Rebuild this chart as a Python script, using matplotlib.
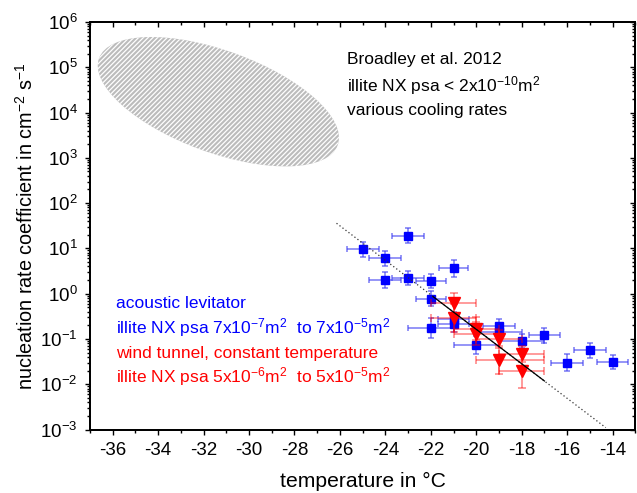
import matplotlib
matplotlib.use('Agg')

import numpy
import matplotlib.pyplot as plt
from matplotlib.patches import Ellipse
from matplotlib.transforms import IdentityTransform
from matplotlib.ticker import MultipleLocator, LogLocator, NullFormatter

from matplotlib import rcParams
rcParams['font.family'] = ['Liberation Sans', 'DejaVu Sans']
rcParams['mathtext.fontset'] = 'custom'
rcParams['mathtext.rm'] = 'Liberation Sans'
rcParams['mathtext.it'] = 'Liberation Sans:italic'
rcParams['mathtext.bf'] = 'Liberation Sans:bold'
rcParams['mathtext.default'] = 'regular'
rcParams['axes.unicode_minus'] = False
rcParams['hatch.linewidth'] = 0.9

TICK_FONT_SIZE = 13.5
XLABEL_FONT_SIZE = 15.2
YLABEL_FONT_SIZE = 14.3
TEXT_FONT_SIZE = 12.5

# acoustic levitator (blue squares)
blue_T = [-25, -24, -23, -24, -23, -22, -21, -22, -22, -21, -21, -20, -19, -19, -18, -17, -16, -15, -14]
blue_J = [9.5, 6.0, 19, 2.0, 2.2, 1.9, 3.6, 0.78, 0.175, 0.27, 0.21, 0.073, 0.19, 0.14, 0.089, 0.12, 0.030, 0.056, 0.031]
blue_dT = [0.7, 0.7, 0.7, 0.7, 0.7, 0.65, 0.65, 0.65, 1.0, 0.7, 0.7, 1.0, 0.7, 1.0, 1.0, 0.7, 0.7, 0.7, 0.7]
blue_dlog = [0.17, 0.16, 0.17, 0.18, 0.16, 0.16, 0.18, 0.16, 0.22, 0.16, 0.16, 0.2, 0.16, 0.16, 0.16, 0.17, 0.18, 0.16, 0.16]

# wind tunnel (red triangles)
red_T = [-21, -21, -20, -20, -19, -19, -18, -18]
red_J = [0.63, 0.29, 0.17, 0.13, 0.10, 0.034, 0.047, 0.020]
red_dT_lo = [1, 1, 1, 1, 1, 1, 1, 1]
red_dT_hi = [1, 1, 1, 1, 1, 2, 1, 1]
red_dlog = [0.22, 0.3, 0.25, 0.25, 0.2, 0.31, 0.18, 0.38]

# fit lines
dotted_T = [-26.15, -14.3]
dotted_J = [35.9, 1.1e-3]
solid_T = [-21.9, -17.0]
solid_J = [0.86, 0.0118]

# Broadley et al. 2012 region
broadley_T = -31.35
broadley_J = 10 ** 4.24

XMIN, XMAX = -37, -13
YMIN, YMAX = 1e-3, 1e6


def log_err(vals, dex):
	lo = [v - v / 10 ** d for v, d in zip(vals, dex)]
	hi = [v * 10 ** d - v for v, d in zip(vals, dex)]
	return [lo, hi]


def plot_j(dest):
	fig = plt.figure(figsize=(6.37, 4.93), dpi=100)
	ax = fig.add_axes([90 / 637., 63.5 / 493., 545.3 / 637., 407.5 / 493.])

	ax.set_yscale('log')
	ax.set_xlim(XMIN, XMAX)
	ax.set_ylim(YMIN, YMAX)

	ax.errorbar(blue_T, blue_J, xerr=blue_dT, yerr=log_err(blue_J, blue_dlog),
				fmt='none', ecolor=(0.25, 0.25, 0.95), alpha=0.7, elinewidth=1.1,
				capsize=2.3, capthick=1.1, zorder=2)
	ax.plot(blue_T, blue_J, 's', color='#0000ff', markersize=5.5, zorder=3)

	ax.errorbar(red_T, red_J, xerr=[red_dT_lo, red_dT_hi], yerr=log_err(red_J, red_dlog),
				fmt='none', ecolor='#ff0000', alpha=0.5, elinewidth=1.1,
				capsize=2.6, capthick=1.1, zorder=4)
	ax.plot(red_T, red_J, 'v', color='#ff0000', markersize=8, zorder=5)

	ax.plot(dotted_T, dotted_J, color='#333333', linewidth=0.9, linestyle=(0, (1, 2)), zorder=6)
	ax.plot(solid_T, solid_J, color='black', linewidth=0.9, zorder=7)

	# hatched ellipse, sized in pixels
	cx, cy = ax.transData.transform((broadley_T, broadley_J))
	ell = Ellipse((cx, cy), 254, 102, angle=-20, transform=IdentityTransform(),
				  facecolor='#bcbcbc', edgecolor='white', hatch='///////', linewidth=0, zorder=1)
	ax.add_patch(ell)

	ax.xaxis.set_major_locator(MultipleLocator(2))
	ax.xaxis.set_minor_locator(MultipleLocator(1))
	ax.yaxis.set_major_locator(LogLocator(base=10, numticks=20))
	ax.yaxis.set_minor_locator(LogLocator(base=10, subs=numpy.arange(2, 10), numticks=20))
	ax.yaxis.set_minor_formatter(NullFormatter())

	ax.tick_params(which='both', direction='out', width=1, labelsize=TICK_FONT_SIZE)
	ax.tick_params(which='major', length=3.5, pad=5.5)
	ax.tick_params(which='minor', length=2)

	# inward ticks on top and right
	axt = ax.twiny()
	axt.set_xlim(XMIN, XMAX)
	axt.xaxis.set_major_locator(MultipleLocator(2))
	axt.xaxis.set_minor_locator(MultipleLocator(1))
	axt.tick_params(which='both', direction='in', labeltop=False, width=1)
	axt.tick_params(which='major', length=3.5)
	axt.tick_params(which='minor', length=2)

	axr = ax.twinx()
	axr.set_yscale('log')
	axr.set_ylim(YMIN, YMAX)
	axr.yaxis.set_major_locator(LogLocator(base=10, numticks=20))
	axr.yaxis.set_minor_locator(LogLocator(base=10, subs=numpy.arange(2, 10), numticks=20))
	axr.tick_params(which='both', direction='in', labelright=False, width=1)
	axr.tick_params(which='major', length=3.5)
	axr.tick_params(which='minor', length=2)

	for a in (ax, axt, axr):
		for sp in a.spines.values():
			sp.set_linewidth(1.2)

	ax.set_xlabel('temperature in \u00b0C', fontsize=XLABEL_FONT_SIZE, labelpad=9.5)
	ax.set_ylabel('nucleation rate coefficient in cm$^{-2}$ s$^{-1}$', fontsize=YLABEL_FONT_SIZE)
	ax.yaxis.set_label_coords(-0.097, 0.5)

	ax.text(0.4707, 0.897, 'Broadley et al. 2012', transform=ax.transAxes,
			fontsize=TEXT_FONT_SIZE, va='baseline')
	ax.text(0.4707, 0.829, 'illite NX psa < 2x10$^{-10}$m$^{2}$', transform=ax.transAxes,
			fontsize=TEXT_FONT_SIZE, va='baseline')
	ax.text(0.4707, 0.7718, 'various cooling rates', transform=ax.transAxes,
			fontsize=TEXT_FONT_SIZE, va='baseline')

	ax.text(0.0477, 0.2974, 'acoustic levitator', transform=ax.transAxes,
			fontsize=TEXT_FONT_SIZE, va='baseline', color='#0000ff')
	ax.text(0.0477, 0.236, 'illite NX psa 7x10$^{-7}$m$^{2}$  to 7x10$^{-5}$m$^{2}$', transform=ax.transAxes,
			fontsize=TEXT_FONT_SIZE, va='baseline', color='#0000ff')
	ax.text(0.0477, 0.1747, 'wind tunnel, constant temperature', transform=ax.transAxes,
			fontsize=TEXT_FONT_SIZE, va='baseline', color='#ff0000')
	ax.text(0.0477, 0.1148, 'illite NX psa 5x10$^{-6}$m$^{2}$  to 5x10$^{-5}$m$^{2}$', transform=ax.transAxes,
			fontsize=TEXT_FONT_SIZE, va='baseline', color='#ff0000')

	fig.savefig(dest, dpi=100)
	plt.close()


if __name__ == '__main__':
	plot_j('out.png')
